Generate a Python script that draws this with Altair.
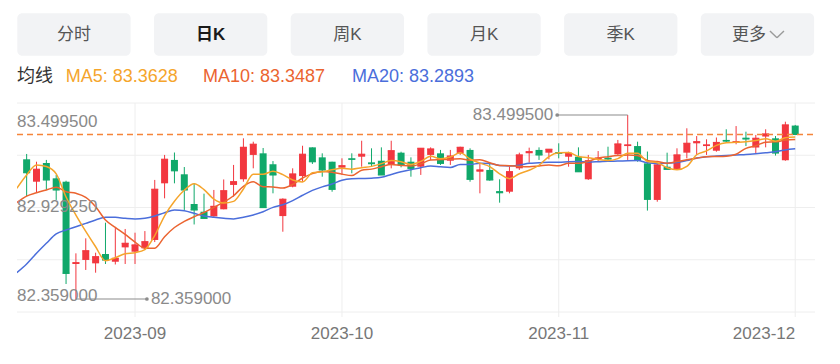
import altair as alt
import numpy as np
import pandas as pd

# ---------------- data ----------------
opens = [83.225, 83.086, 83.202, 83.107, 83.086, 82.576, 82.601, 82.580, 82.638, 82.590,
         82.679, 82.652, 82.673, 82.725, 83.076, 83.221, 83.132, 82.948, 82.900, 82.871,
         82.915, 83.066, 83.101, 83.252, 83.262, 83.194, 82.873, 83.055, 83.121, 83.299,
         83.237, 83.210, 83.173, 83.231, 83.241, 83.206, 83.216, 83.190, 83.266, 83.210,
         83.179, 83.252, 83.262, 83.216, 83.262, 83.283, 83.148, 83.159, 83.028, 83.024,
         83.169, 83.262, 83.283, 83.266, 83.270, 83.241, 83.241, 83.101, 83.227, 83.235,
         83.256, 83.307, 83.307, 83.200, 82.973, 83.179, 83.163, 83.266, 83.324, 83.307,
         83.278, 83.345, 83.328, 83.359, 83.298, 83.366, 83.355, 83.219, 83.434]
highs = [83.258, 83.210, 83.221, 83.128, 83.092, 82.642, 82.735, 82.646, 82.832, 82.802,
         82.793, 82.770, 82.780, 83.097, 83.252, 83.267, 83.177, 83.078, 83.012, 83.035,
         83.100, 83.190, 83.355, 83.334, 83.295, 83.214, 82.983, 83.169, 83.309, 83.299,
         83.262, 83.210, 83.231, 83.262, 83.340, 83.293, 83.299, 83.340, 83.272, 83.237,
         83.293, 83.299, 83.283, 83.283, 83.303, 83.293, 83.200, 83.200, 83.101, 83.179,
         83.266, 83.297, 83.299, 83.287, 83.324, 83.272, 83.299, 83.252, 83.276, 83.303,
         83.345, 83.4995, 83.334, 83.273, 83.200, 83.266, 83.293, 83.417, 83.369, 83.349,
         83.360, 83.411, 83.431, 83.396, 83.376, 83.411, 83.369, 83.458, 83.438]
lows = [82.997, 83.018, 83.035, 82.973, 82.452, 82.359, 82.539, 82.522, 82.576, 82.573,
        82.576, 82.576, 82.663, 82.712, 82.983, 83.076, 82.911, 82.821, 82.859, 82.869,
        82.915, 82.993, 83.086, 83.169, 82.926, 83.014, 82.776, 83.051, 83.086, 83.196,
        83.117, 83.024, 83.128, 83.138, 83.179, 83.183, 83.128, 83.169, 83.175, 83.117,
        83.128, 83.221, 83.190, 83.190, 83.252, 83.086, 83.014, 83.092, 82.956, 83.014,
        83.159, 83.204, 83.221, 83.225, 83.231, 83.179, 83.148, 83.097, 83.210, 83.221,
        83.252, 83.221, 83.210, 82.907, 82.962, 83.163, 83.163, 83.231, 83.252, 83.252,
        83.272, 83.328, 83.318, 83.307, 83.262, 83.299, 83.248, 83.216, 83.376]
closes = [83.142, 83.163, 83.097, 83.035, 82.518, 82.584, 82.658, 82.621, 82.601, 82.611,
          82.704, 82.694, 82.714, 83.039, 83.225, 83.154, 83.035, 82.911, 82.859, 82.933,
          83.030, 83.086, 83.299, 83.318, 82.926, 83.128, 82.977, 83.134, 83.256, 83.210,
          83.159, 83.039, 83.185, 83.225, 83.256, 83.198, 83.128, 83.278, 83.190, 83.169,
          83.293, 83.289, 83.200, 83.245, 83.299, 83.101, 83.159, 83.097, 83.018, 83.148,
          83.252, 83.272, 83.252, 83.287, 83.262, 83.262, 83.148, 83.216, 83.233, 83.227,
          83.320, 83.314, 83.219, 82.977, 83.190, 83.163, 83.252, 83.324, 83.334, 83.314,
          83.329, 83.338, 83.334, 83.351, 83.355, 83.382, 83.264, 83.438, 83.379]

# moving averages, starting one bar left of the first visible candle
ma5 = [83.045, 83.128, 83.190, 83.180, 83.135, 82.991, 82.879, 82.778, 82.683, 82.596, 82.615,
       82.639, 82.646, 82.665, 82.752, 82.875, 82.965, 83.033, 83.073, 83.037, 82.978,
       82.954, 82.964, 83.041, 83.133, 83.132, 83.151, 83.130, 83.097, 83.084, 83.141,
       83.147, 83.160, 83.170, 83.164, 83.173, 83.181, 83.198, 83.217, 83.210, 83.193,
       83.212, 83.244, 83.228, 83.239, 83.265, 83.227, 83.201, 83.180, 83.135, 83.105,
       83.135, 83.157, 83.188, 83.242, 83.265, 83.267, 83.242, 83.235, 83.224, 83.217,
       83.229, 83.262, 83.263, 83.211, 83.204, 83.173, 83.160, 83.181, 83.253, 83.277,
       83.311, 83.328, 83.330, 83.333, 83.341, 83.352, 83.337, 83.358, 83.363]
ma10 = [82.956, 82.997, 83.018, 83.035, 83.051, 83.024, 83.014, 82.989, 82.931, 82.849, 82.803,
        82.759, 82.712, 82.674, 82.674, 82.745, 82.802, 82.840, 82.869, 82.895, 82.927,
        82.959, 82.999, 83.057, 83.085, 83.055, 83.053, 83.047, 83.069, 83.109, 83.136,
        83.149, 83.145, 83.133, 83.124, 83.157, 83.164, 83.179, 83.193, 83.187, 83.183,
        83.196, 83.221, 83.223, 83.225, 83.229, 83.219, 83.222, 83.204, 83.187, 83.185,
        83.181, 83.179, 83.184, 83.189, 83.185, 83.201, 83.200, 83.212, 83.233, 83.241,
        83.248, 83.252, 83.249, 83.218, 83.211, 83.201, 83.211, 83.222, 83.232, 83.241,
        83.242, 83.244, 83.256, 83.293, 83.309, 83.331, 83.333, 83.344, 83.348]
ma20 = [82.522, 82.576, 82.642, 82.704, 82.762, 82.787, 82.807, 82.828, 82.849, 82.865, 82.865,
        82.859, 82.855, 82.859, 82.873, 82.894, 82.911, 82.906, 82.890, 82.873, 82.865,
        82.859, 82.855, 82.866, 82.880, 82.900, 82.927, 82.943, 82.969, 83.002, 83.032,
        83.054, 83.072, 83.095, 83.104, 83.106, 83.108, 83.113, 83.131, 83.148, 83.160,
        83.173, 83.183, 83.178, 83.174, 83.193, 83.192, 83.201, 83.199, 83.187, 83.184,
        83.188, 83.200, 83.203, 83.207, 83.207, 83.210, 83.211, 83.208, 83.210, 83.213,
        83.214, 83.216, 83.217, 83.203, 83.198, 83.201, 83.205, 83.217, 83.233, 83.241,
        83.245, 83.248, 83.252, 83.255, 83.260, 83.266, 83.272, 83.283, 83.290]

tick_idx = [11, 32, 54, 78]
tick_labels = ["2023-09", "2023-10", "2023-11", "2023-12"]
tabs = ["分时", "日K", "周K", "月K", "季K", "更多"]
legend_title = "均线"
legend_labels = ["MA5: 83.3628", "MA10: 83.3487", "MA20: 83.2893"]

# ---------------- styles ----------------
RED, GREEN = "#f2373f", "#10a86a"
C5, C10, C20 = "#f5a52c", "#eb6430", "#4b6edb"
DASH = "#f5853a"
GRID = "#eeeeee"
FONT = "Liberation Sans, Noto Sans CJK SC, sans-serif"
W, H = 798, 209

n = len(closes)
df = pd.DataFrame(dict(i=list(range(n)), o=opens, h=highs, l=lows, c=closes))
df["dir"] = np.where(df["c"] >= df["o"], "up", "down")

ma_idx = list(range(-1, n))
dfma = pd.DataFrame(dict(i=ma_idx, m5=ma5, m10=ma10, m20=ma20))

hi_i = int(np.argmax(highs)); hi_v = max(highs)
lo_i = int(np.argmin(lows)); lo_v = min(lows)
mid_v = (hi_v + lo_v) / 2

ymin, ymax = 82.2784, 83.5739
xs = alt.Scale(domain=[-0.471, 79.50], nice=False, zero=False)
ys = alt.Scale(domain=[ymin, ymax], nice=False, zero=False)


def X(f="i:Q"):
    return alt.X(f, scale=xs, axis=None)


def Y(f):
    return alt.Y(f, scale=ys, axis=None)


col = alt.Color("dir:N", scale=alt.Scale(domain=["up", "down"], range=[RED, GREEN]), legend=None)
one = pd.DataFrame({"a": [0]})

layers = []

# grid
layers.append(alt.Chart(pd.DataFrame({"v": np.linspace(ymin, ymax, 5)})).mark_rule(
    color=GRID, strokeWidth=1).encode(y=Y("v:Q"), x=alt.value(0), x2=alt.value(W)))
layers.append(alt.Chart(pd.DataFrame({"i": tick_idx})).mark_rule(
    color=GRID, strokeWidth=1).encode(x=X(), y=alt.value(0), y2=alt.value(214)))

# candles
layers.append(alt.Chart(df).mark_rule(strokeWidth=1).encode(
    x=X(), y=Y("l:Q"), y2="h:Q", color=col))
layers.append(alt.Chart(df).mark_bar(size=7).encode(
    x=X(), y=Y("o:Q"), y2="c:Q", color=col))
layers.append(alt.Chart(df).mark_rule(strokeWidth=1.2, xOffset=-3.5, x2Offset=3.5).encode(
    x=X(), x2="i:Q", y=Y("c:Q"), color=col))

# moving averages
for f, c in [("m20", C20), ("m10", C10), ("m5", C5)]:
    layers.append(alt.Chart(dfma).mark_line(color=c, strokeWidth=1.5,
                                            interpolate="monotone", clip=True).encode(
        x=X(), y=Y(f + ":Q")))

# last price dashed line
layers.append(alt.Chart(pd.DataFrame({"v": [closes[-1]]})).mark_rule(
    color=DASH, strokeWidth=1.5, strokeDash=[6, 4]).encode(
    y=Y("v:Q"), x=alt.value(0), x2=alt.value(W)))

# y labels (max / mid / min)
for v, dy in [(hi_v, 7), (mid_v, 0), (lo_v, -3)]:
    layers.append(alt.Chart(pd.DataFrame({"v": [v], "t": ["%.6f" % v]})).mark_text(
        align="left", baseline="middle", fontSize=17, color="#8a8a8a", font=FONT, dy=dy).encode(
        x=alt.value(0), y=Y("v:Q"), text="t:N"))

# max / min markers
for i0, v, off in [(hi_i, hi_v, -70.5), (lo_i, lo_v, 71)]:
    d = pd.DataFrame({"i": [i0], "v": [v], "t": ["%.6f" % v]})
    layers.append(alt.Chart(d).mark_rule(color="#8c8c8c", strokeWidth=1.2, x2Offset=off).encode(
        x=X(), x2="i:Q", y=Y("v:Q")))
    layers.append(alt.Chart(d).mark_circle(size=14, color="#8c8c8c", opacity=1, xOffset=off).encode(
        x=X(), y=Y("v:Q")))
    layers.append(alt.Chart(d).mark_text(
        align="right" if off < 0 else "left", baseline="middle", fontSize=17, color="#8a8a8a",
        font=FONT, dx=off - 4 if off < 0 else off + 4).encode(x=X(), y=Y("v:Q"), text="t:N"))

# x labels
dfx = pd.DataFrame({"i": tick_idx, "t": tick_labels})
layers.append(alt.Chart(dfx.iloc[:-1]).mark_text(
    align="center", baseline="middle", fontSize=17, color="#777777", font=FONT).encode(
    x=X(), y=alt.value(231), text="t:N"))
layers.append(alt.Chart(dfx.iloc[-1:]).mark_text(
    align="right", baseline="middle", fontSize=17, color="#777777", font=FONT).encode(
    x=X(), y=alt.value(231), text="t:N"))

# tab buttons
BTN_W, BTN_STEP, BTN_X0 = 113.3, 136.7, 0.3
for k, lab in enumerate(tabs):
    x0 = BTN_X0 + BTN_STEP * k
    layers.append(alt.Chart(one).mark_rect(color="#f2f3f5", cornerRadius=5).encode(
        x=alt.value(x0), x2=alt.value(x0 + BTN_W), y=alt.value(-89.7), y2=alt.value(-47.3)))
    cx = x0 + BTN_W / 2 - (8.5 if lab == "更多" else 0)
    sel = lab == "日K"
    layers.append(alt.Chart(one).mark_text(
        text=lab, align="center", baseline="middle", fontSize=17, font=FONT,
        fontWeight="bold" if sel else "normal", color="#1a1a1a" if sel else "#555555").encode(
        x=alt.value(cx), y=alt.value(-68)))
    if lab == "更多":
        for (ax, ay, bx, by) in [(cx + 21, -72, cx + 28, -65.3), (cx + 28, -65.3, cx + 35, -72)]:
            layers.append(alt.Chart(one).mark_rule(color="#9a9a9a", strokeWidth=1.4).encode(
                x=alt.value(ax), y=alt.value(ay), x2=alt.value(bx), y2=alt.value(by)))

# legend row
for txt, xpos, c in [(legend_title, 0, "#333333"), (legend_labels[0], 48.7, C5),
                     (legend_labels[1], 186, C10), (legend_labels[2], 335, C20)]:
    layers.append(alt.Chart(one).mark_text(
        text=txt, align="left", baseline="middle", fontSize=18, font=FONT, color=c).encode(
        x=alt.value(xpos), y=alt.value(-26)))

chart = alt.layer(*layers).properties(
    width=W, height=H,
    padding={"left": 9, "top": 95, "right": 17, "bottom": 44},
    autosize=alt.AutoSizeParams(type="none"),
).configure_view(stroke=None)

chart.save("out.html", embed_options={"renderer": "svg", "actions": False})
